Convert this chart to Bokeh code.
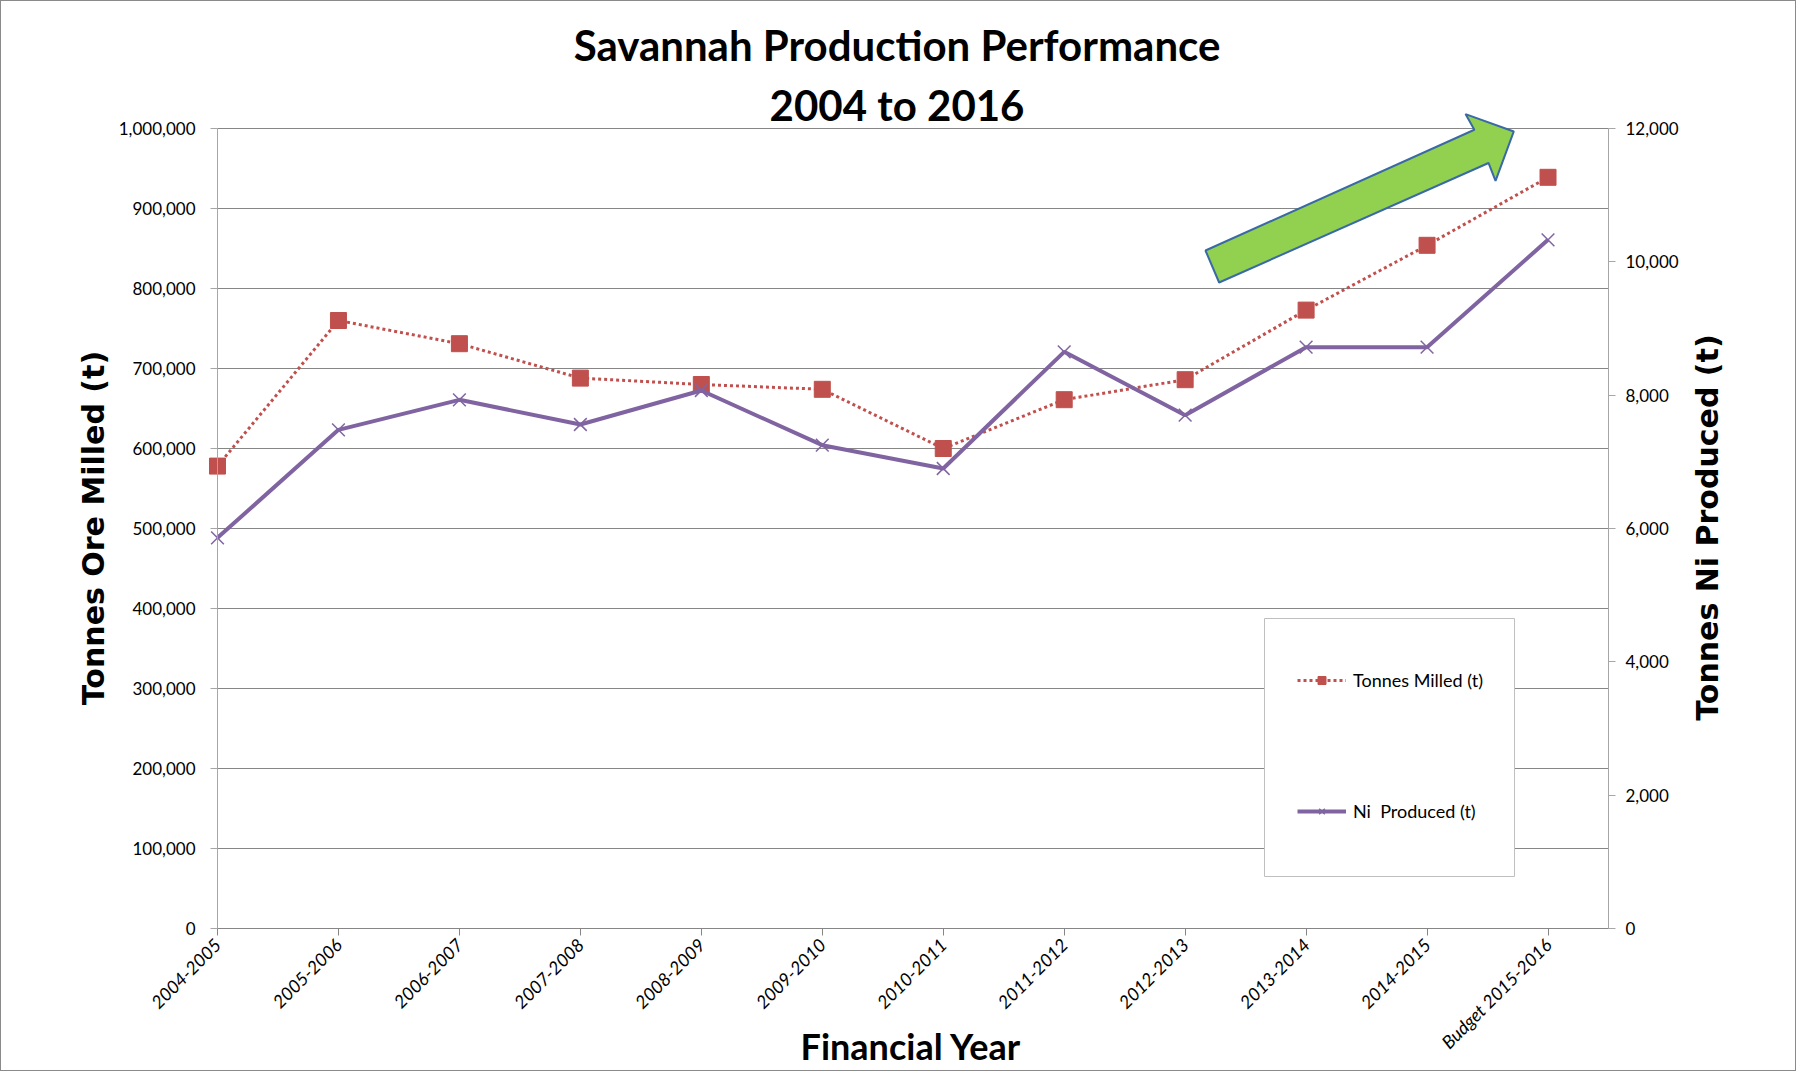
from math import pi
from bokeh.plotting import figure
from bokeh.models import (Range1d, LinearAxis, FixedTicker, NumeralTickFormatter, Label,
                          Legend, LegendItem, BoxAnnotation, PolyAnnotation)
from bokeh.embed import file_html
from bokeh.resources import INLINE

# ---------------- data ----------------
years = ["2004-2005", "2005-2006", "2006-2007", "2007-2008", "2008-2009", "2009-2010",
         "2010-2011", "2011-2012", "2012-2013", "2013-2014", "2014-2015", "Budget 2015-2016"]
tonnes_milled = [578000, 760000, 731000, 688000, 680000, 674000,
                 600000, 661000, 686000, 773000, 854000, 939000]
ni_produced = [5860, 7480, 7930, 7560, 8070, 7250,
               6900, 8650, 7700, 8720, 8720, 10330]
left_ticks = [0, 100000, 200000, 300000, 400000, 500000, 600000, 700000, 800000, 900000, 1000000]
right_ticks = [0, 2000, 4000, 6000, 8000, 10000, 12000]

title_lines = ["Savannah Production Performance", "2004 to 2016"]
x_title = "Financial  Year"
y_left_title = "Tonnes Ore Milled (t)"
y_right_title = "Tonnes Ni Produced (t)"
series_names = ["Tonnes Milled (t)", "Ni  Produced (t)"]

# green trend arrow outline (x in category index, y in left-axis units)
arrow_x = [8.281, 8.168, 10.391, 10.318, 10.717, 10.566, 10.508]
arrow_y = [807500, 847500, 998400, 1018000, 996300, 934500, 956900]

xs = list(range(len(years)))

FONT = "Lato"
RED = "#C0504D"
PURPLE = "#8064A2"
GRID = "#868686"
AXIS = "#A6A6A6"

LEFT_MAX = left_ticks[-1]
RIGHT_MAX = right_ticks[-1]
X_LAST = len(years) - 0.5           # category axis ends half a slot after the last year
X_MIN, X_MAX = -1.5708, 13.046      # frame also holds the outer tick labels and titles
Y_MIN, Y_MAX = -177500, 1158750     # room below/above the plot area for labels and title

p = figure(frame_width=1768, frame_height=1069,
           min_border_left=26, min_border_right=0, min_border_top=0, min_border_bottom=0,
           x_range=Range1d(X_MIN, X_MAX), y_range=Range1d(Y_MIN, Y_MAX),
           output_backend="svg", toolbar_location=None,
           background_fill_color="white", border_fill_color="white",
           outline_line_color=None, y_axis_location=None, x_axis_location=None,
           styles={"border": "1px solid #8a8a8a"})

p.extra_y_ranges = {"ni": Range1d(RIGHT_MAX * Y_MIN / LEFT_MAX, RIGHT_MAX * Y_MAX / LEFT_MAX)}

# ---------------- axes ----------------
xaxis = LinearAxis(ticker=FixedTicker(ticks=xs), bounds=(0, X_LAST), fixed_location=0,
                   major_label_overrides={i: years[i] for i in xs})
xaxis.major_label_orientation = pi / 4
xaxis.major_label_text_font = FONT
xaxis.major_label_text_font_style = "italic"
xaxis.major_label_text_font_size = "18px"
xaxis.major_label_text_color = "#000000"
xaxis.major_tick_out = 7
xaxis.major_tick_in = 0
xaxis.minor_tick_line_color = None
xaxis.axis_line_color = GRID
xaxis.major_tick_line_color = GRID
xaxis.major_label_standoff = 6
p.add_layout(xaxis, "below")

yl = LinearAxis(ticker=FixedTicker(ticks=left_ticks), formatter=NumeralTickFormatter(format="0,0"),
                bounds=(0, LEFT_MAX), fixed_location=0)
yl.major_label_text_font = FONT
yl.major_label_text_font_size = "17px"
yl.major_label_text_color = "#000000"
yl.major_tick_out = 7
yl.major_tick_in = 0
yl.minor_tick_line_color = None
yl.axis_line_color = AXIS
yl.major_tick_line_color = AXIS
yl.major_label_standoff = 15
p.add_layout(yl, "left")

yr = LinearAxis(y_range_name="ni", ticker=FixedTicker(ticks=right_ticks),
                formatter=NumeralTickFormatter(format="0,0"), bounds=(0, RIGHT_MAX),
                fixed_location=X_LAST)
yr.major_label_text_font = FONT
yr.major_label_text_font_size = "17px"
yr.major_label_text_color = "#000000"
yr.major_tick_out = 7
yr.major_tick_in = 0
yr.minor_tick_line_color = None
yr.axis_line_color = AXIS
yr.major_tick_line_color = AXIS
yr.major_label_standoff = 10
p.add_layout(yr, "right")

p.xgrid.visible = False
p.ygrid.ticker = FixedTicker(ticks=left_ticks)
p.ygrid.grid_line_color = GRID
p.ygrid.grid_line_width = 1
try:
    p.ygrid.cross_bounds = (0, X_LAST)
except Exception:
    p.ygrid.visible = False
    p.segment(x0=[0] * len(left_ticks), x1=[X_LAST] * len(left_ticks),
              y0=left_ticks, y1=left_ticks, line_color=GRID, line_width=1)

# ---------------- series ----------------
r1 = p.line(xs, tonnes_milled, line_color=RED, line_width=3, line_dash="3 3")
m1 = p.scatter(xs, tonnes_milled, marker="square", size=16, fill_color=RED, line_color=RED)
r2 = p.line(xs, ni_produced, y_range_name="ni", line_color=PURPLE, line_width=4)
m2 = p.scatter(xs, ni_produced, y_range_name="ni", marker="x", size=18,
               line_color=PURPLE, line_width=1.5)

# trend arrow
p.add_layout(PolyAnnotation(xs=arrow_x, ys=arrow_y, fill_color="#92D050", fill_alpha=1.0,
                            line_color="#3A6AA5", line_alpha=1.0, line_width=2))

# legend box + legend
p.add_layout(BoxAnnotation(left=8.656, right=10.723, bottom=65000, top=387500,
                           fill_color="white", fill_alpha=1.0,
                           line_color="#BFBFBF", line_alpha=1.0, line_width=1))
legend = Legend(items=[LegendItem(label=series_names[0], renderers=[r1, m1]),
                       LegendItem(label=series_names[1], renderers=[r2, m2])],
                location=(1270, 106 + 142), padding=0, spacing=109, margin=0,
                glyph_width=49, glyph_height=20, label_height=20, label_standoff=7,
                border_line_alpha=0, background_fill_alpha=0,
                label_text_font=FONT, label_text_font_size="18px",
                label_text_color="#000000")
p.add_layout(legend, "center")

# ---------------- titles ----------------
p.add_layout(Label(x=5.618, y=1105000, text=title_lines[0], text_align="center",
                   text_baseline="middle", text_font=FONT, text_font_style="bold",
                   text_font_size="42px", text_color="#000000"))
p.add_layout(Label(x=5.618, y=1030000, text=title_lines[1], text_align="center",
                   text_baseline="middle", text_font=FONT, text_font_style="bold",
                   text_font_size="42px", text_color="#000000"))
p.add_layout(Label(x=5.77, y=-146250, text=x_title, text_align="center",
                   text_baseline="middle", text_font=FONT, text_font_style="bold",
                   text_font_size="36px", text_color="#000000"))
p.add_layout(Label(x=-1.025, y=500600, text=y_left_title, text_align="center",
                   text_baseline="middle", text_font="DejaVu Sans", text_font_style="bold",
                   text_font_size="30px", text_color="#000000", angle=pi / 2))
p.add_layout(Label(x=12.318, y=501200, text=y_right_title, text_align="center",
                   text_baseline="middle", text_font="DejaVu Sans", text_font_style="bold",
                   text_font_size="30px", text_color="#000000", angle=pi / 2))

open("out.html", "w").write(file_html(p, INLINE))
